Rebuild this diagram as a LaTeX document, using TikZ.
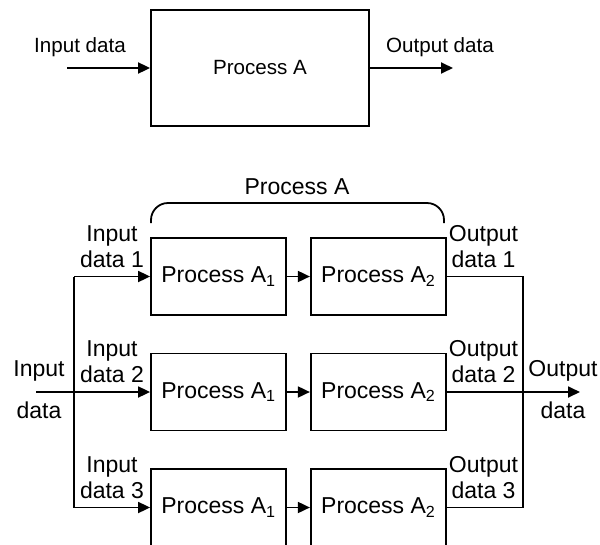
\documentclass[tikz,border=0pt]{standalone}
\usepackage{fontspec}
\setmainfont{Liberation Sans}
\usetikzlibrary{positioning,arrows.meta}

\begin{document}
\begin{tikzpicture}[
    x=1pt, y=-1pt,
    node distance=25pt,
    whole/.style={rectangle, draw=black, line width=1.8pt, minimum width=218pt, minimum height=116pt, inner sep=0pt, font=\fontsize{20.6}{24}\selectfont},
    part/.style={rectangle, draw=black, line width=1.8pt, minimum width=135pt, minimum height=77pt, inner sep=0pt, font=\fontsize{23}{26}\selectfont},
    toplabel/.style={inner sep=0pt, anchor=base, font=\fontsize{20.6}{24}\selectfont},
    label/.style={inner sep=0pt, align=center, font=\fontsize{23}{26}\selectfont},
    arrow/.style={-{Triangle[length=12pt,width=11pt]}, line width=1.8pt, black},
    wire/.style={line width=1.8pt, black}
]
\useasboundingbox (0,0) rectangle (600,544);

% one process
\node[whole] (procA) at (260,68) {Process A};
\coordinate (in) at (67,68);
\coordinate (out) at (453,68);
\node[toplabel] (inlbl) at (80,52) {Input data};
\node[toplabel] (outlbl) at (440,52) {Output data};
\draw[arrow] (in) -- (procA);
\draw[arrow] (procA) -- (out);

% split into three parallel rows
\node[part] (a11) at (218.5,276.5) {Process A\textsubscript{1}};
\node[part, right=23pt of a11] (a12) {Process A\textsubscript{2}};
\node[part, below=36.7pt of a11] (a21) {Process A\textsubscript{1}};
\node[part, right=23pt of a21] (a22) {Process A\textsubscript{2}};
\node[part, below=36.7pt of a21] (a31) {Process A\textsubscript{1}};
\node[part, right=23pt of a31] (a32) {Process A\textsubscript{2}};

\draw[arrow] (a11) -- (a12);
\draw[arrow] (a21) -- (a22);
\draw[arrow] (a31) -- (a32);

% input side
\coordinate (src) at (a21.west -| 36,0);
\coordinate (in1) at (a11.west -| 74,0);
\coordinate (in3) at (a31.west -| 74,0);
\draw[wire] (in1) -- (in3);
\draw[arrow] (in1) -- (a11.west);
\draw[arrow] (src) -- (a21.west);
\draw[arrow] (in3) -- (a31.west);

% output side
\coordinate (sink) at (a22.east -| 580,0);
\coordinate (out1) at (a12.east -| 523,0);
\coordinate (out3) at (a32.east -| 523,0);
\draw[wire] (a12.east) -- (out1) -- (out3) -- (a32.east);
\draw[arrow] (a22.east) -- (sink);

% bracket over the first row
\coordinate (brl) at (151,223);
\coordinate (brr) at (444,223);
\draw[wire, rounded corners=17pt] (brl) -- (151,203) -- (444,203) -- (brr);
\node[toplabel, font=\fontsize{23}{26}\selectfont] (bracketlbl) at (297,194) {Process A};

% labels
\node[label] (inall) at (39,390) {Input\\[16pt]data};
\node[label] (outall) at (563,390) {Output\\[16pt]data};
\node[label] (in1lbl) at (112,246.5) {Input\\data 1};
\node[label] (in2lbl) at (112,362) {Input\\data 2};
\node[label] (in3lbl) at (112,477.5) {Input\\data 3};
\node[label] (out1lbl) at (483.5,246.5) {Output\\data 1};
\node[label] (out2lbl) at (483.5,362) {Output\\data 2};
\node[label] (out3lbl) at (483.5,477.5) {Output\\data 3};
\end{tikzpicture}
\end{document}
